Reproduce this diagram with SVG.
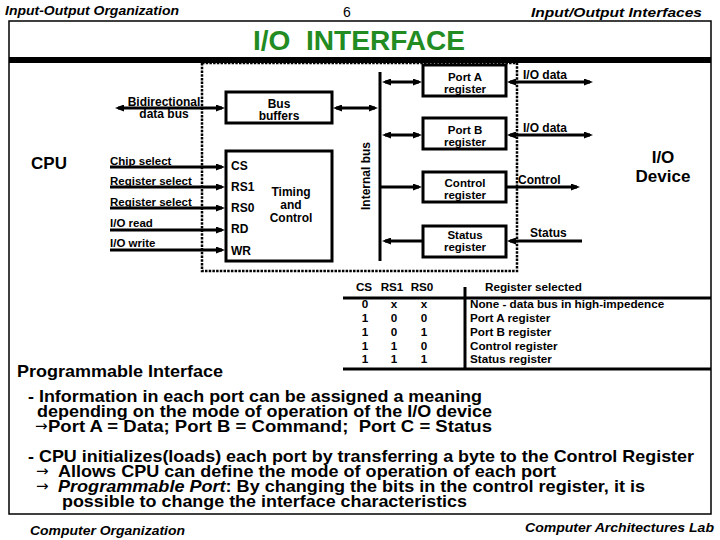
<svg xmlns="http://www.w3.org/2000/svg" width="720" height="540" viewBox="0 0 720 540">
<defs>
<marker id="ah" viewBox="0 0 9 7" refX="6" refY="3.5" markerWidth="9" markerHeight="7" markerUnits="userSpaceOnUse" orient="auto-start-reverse"><path d="M0,0 L9,3.5 L0,7 z" fill="#000"/></marker>
</defs>
<style>
text{font-family:"Liberation Sans",Arial,sans-serif;fill:#000}
.box{fill:#fff;stroke:#000;stroke-width:3}
.w{stroke:#000;stroke-width:3;fill:none}
.dot{stroke:#000;stroke-width:2.5;fill:none;stroke-dasharray:2.5 1.2}
.sig{font-size:11.5px;font-weight:bold}
.pin{font-size:12px;font-weight:bold}
.lbl{font-size:12px;font-weight:bold}
.rg{font-size:11.5px;font-weight:bold;text-anchor:middle}
.ctr{text-anchor:middle}
.tb{font-size:11.7px;font-weight:bold}
.body{font-size:17px;font-weight:bold}
.arr{font-family:"DejaVu Sans",sans-serif;font-size:15px;font-weight:normal}
.hdr{font-size:13.5px;font-weight:bold;font-style:italic}
.big{font-size:17px;font-weight:bold}
</style>

<g id="page-header">
<text class="hdr" x="5" y="15" textLength="174" lengthAdjust="spacingAndGlyphs">Input-Output Organization</text>
<text x="347" y="17" font-size="14" text-anchor="middle">6</text>
<text class="hdr" x="531" y="17" textLength="171" lengthAdjust="spacingAndGlyphs">Input/Output Interfaces</text>
</g>

<g id="frame">
<rect x="9" y="21" width="702" height="493" fill="none" stroke="#000" stroke-width="1.5"/>
<line x1="9" y1="60" x2="711" y2="60" stroke="#000" stroke-width="6"/>
<text x="253" y="50" font-size="27" font-weight="bold" style="fill:#228B22" textLength="212" lengthAdjust="spacingAndGlyphs">I/O&#160; INTERFACE</text>
</g>

<g id="interface-boundary">
<rect class="dot" x="202" y="63" width="315" height="208"/>
</g>

<g id="cpu"><text class="big ctr" x="49" y="169">CPU</text></g>

<g id="bus-buffers">
<rect class="box" x="226" y="92" width="106" height="31"/>
<text class="lbl ctr" x="279" y="107.5">Bus</text>
<text class="lbl ctr" x="279" y="119.5">buffers</text>
</g>

<g id="timing-control">
<rect class="box" x="226" y="151" width="106" height="110"/>
<text class="pin" x="231" y="170">CS</text>
<text class="pin" x="231" y="191">RS1</text>
<text class="pin" x="231" y="212">RS0</text>
<text class="pin" x="231" y="233">RD</text>
<text class="pin" x="231" y="255">WR</text>
<text class="lbl ctr" x="291" y="196" font-size="12.5">Timing</text>
<text class="lbl ctr" x="291" y="209" font-size="12.5">and</text>
<text class="lbl ctr" x="291" y="222" font-size="12.5">Control</text>
</g>

<g id="internal-bus">
<line class="w" x1="380" y1="72" x2="380" y2="261"/>
<text class="lbl ctr" transform="translate(370,176) rotate(-90)">Internal bus</text>
</g>

<g id="port-a">
<rect class="box" x="423" y="65" width="83" height="31"/>
<text class="rg" x="465" y="80.5">Port A</text>
<text class="rg" x="465" y="92.5">register</text>
</g>
<g id="port-b">
<rect class="box" x="423" y="118" width="83" height="31"/>
<text class="rg" x="465" y="133.5">Port B</text>
<text class="rg" x="465" y="145.5">register</text>
</g>
<g id="control-register">
<rect class="box" x="423" y="172" width="83" height="30"/>
<text class="rg" x="465" y="186.5">Control</text>
<text class="rg" x="465" y="198.5">register</text>
</g>
<g id="status-register">
<rect class="box" x="423" y="226" width="83" height="31"/>
<text class="rg" x="465" y="239">Status</text>
<text class="rg" x="465" y="251">register</text>
</g>

<g id="io-device">
<text class="big ctr" x="663" y="163">I/O</text>
<text class="big ctr" x="663" y="182">Device</text>
</g>

<g id="connectors">
<line class="w" x1="118" y1="108" x2="222" y2="108" marker-start="url(#ah)" marker-end="url(#ah)"/>
<line class="w" x1="336" y1="108" x2="375" y2="108" marker-start="url(#ah)" marker-end="url(#ah)"/>
<line class="w" x1="110" y1="167" x2="222" y2="167" marker-end="url(#ah)"/>
<line class="w" x1="110" y1="187" x2="222" y2="187" marker-end="url(#ah)"/>
<line class="w" x1="110" y1="208" x2="222" y2="208" marker-end="url(#ah)"/>
<line class="w" x1="110" y1="230" x2="222" y2="230" marker-end="url(#ah)"/>
<line class="w" x1="110" y1="250" x2="222" y2="250" marker-end="url(#ah)"/>
<line class="w" x1="385" y1="82" x2="419" y2="82" marker-start="url(#ah)" marker-end="url(#ah)"/>
<line class="w" x1="385" y1="135" x2="419" y2="135" marker-start="url(#ah)" marker-end="url(#ah)"/>
<line class="w" x1="381" y1="187" x2="419" y2="187" marker-end="url(#ah)"/>
<line class="w" x1="422" y1="241" x2="385" y2="241" marker-end="url(#ah)"/>
<line class="w" x1="510" y1="82" x2="590" y2="82" marker-start="url(#ah)" marker-end="url(#ah)"/>
<line class="w" x1="510" y1="135" x2="590" y2="135" marker-start="url(#ah)" marker-end="url(#ah)"/>
<line class="w" x1="506" y1="187" x2="577" y2="187" marker-end="url(#ah)"/>
<line class="w" x1="582" y1="241" x2="510" y2="241" marker-end="url(#ah)"/>
<text class="lbl" x="164" y="106" text-anchor="middle">Bidirectional</text>
<text class="lbl" x="164" y="118" text-anchor="middle">data bus</text>
<text class="sig" x="110" y="165">Chip select</text>
<text class="sig" x="110" y="185">Register select</text>
<text class="sig" x="110" y="206">Register select</text>
<text class="sig" x="110" y="227">I/O read</text>
<text class="sig" x="110" y="247">I/O write</text>
<text class="lbl" x="523" y="79">I/O data</text>
<text class="lbl" x="523" y="132">I/O data</text>
<text class="lbl" x="518" y="184">Control</text>
<text class="lbl" x="530" y="237">Status</text>
</g>

<g id="select-table">
<line class="w" x1="343" y1="298" x2="711" y2="298"/>
<line class="w" x1="343" y1="369" x2="711" y2="369"/>
<line class="w" x1="465" y1="287" x2="465" y2="370"/>
<text class="tb ctr" x="364" y="291">CS</text>
<text class="tb ctr" x="392" y="291">RS1</text>
<text class="tb ctr" x="422" y="291">RS0</text>
<text class="tb" x="485" y="291">Register selected</text>
<text class="tb ctr" x="365" y="308">0</text><text class="tb ctr" x="394" y="308">x</text><text class="tb ctr" x="424" y="308">x</text>
<text class="tb ctr" x="365" y="322">1</text><text class="tb ctr" x="394" y="322">0</text><text class="tb ctr" x="424" y="322">0</text>
<text class="tb ctr" x="365" y="336">1</text><text class="tb ctr" x="394" y="336">0</text><text class="tb ctr" x="424" y="336">1</text>
<text class="tb ctr" x="365" y="349.5">1</text><text class="tb ctr" x="394" y="349.5">1</text><text class="tb ctr" x="424" y="349.5">0</text>
<text class="tb ctr" x="365" y="363">1</text><text class="tb ctr" x="394" y="363">1</text><text class="tb ctr" x="424" y="363">1</text>
<text class="tb" x="470" y="308">None - data bus in high-impedence</text>
<text class="tb" x="470" y="322">Port A register</text>
<text class="tb" x="470" y="336">Port B register</text>
<text class="tb" x="470" y="349.5">Control register</text>
<text class="tb" x="470" y="363">Status register</text>
</g>

<g id="notes">
<text class="body" x="17" y="377" textLength="206" lengthAdjust="spacingAndGlyphs">Programmable Interface</text>
<text class="body" x="28" y="402" textLength="454" lengthAdjust="spacingAndGlyphs">- Information in each port can be assigned a meaning</text>
<text class="body" x="37" y="417" textLength="455" lengthAdjust="spacingAndGlyphs">depending on the mode of operation of the I/O device</text>
<text class="arr" x="35" y="431">→</text>
<text class="body" x="48" y="432" textLength="444" lengthAdjust="spacingAndGlyphs">Port A = Data; Port B = Command;&#160; Port C = Status</text>
<text class="body" x="28" y="462" textLength="666" lengthAdjust="spacingAndGlyphs">- CPU initializes(loads) each port by transferring a byte to the Control Register</text>
<text class="arr" x="36" y="476">→</text>
<text class="body" x="58" y="477" textLength="498" lengthAdjust="spacingAndGlyphs">Allows CPU can define the mode of operation of each port</text>
<text class="arr" x="36" y="491">→</text>
<text class="body" x="58" y="492" textLength="587" lengthAdjust="spacingAndGlyphs"><tspan font-style="italic">Programmable Port</tspan>: By changing the bits in the control register, it is</text>
<text class="body" x="62" y="507" textLength="405" lengthAdjust="spacingAndGlyphs">possible to change the interface characteristics</text>
</g>

<g id="page-footer">
<text class="hdr" x="30" y="535" textLength="155" lengthAdjust="spacingAndGlyphs">Computer Organization</text>
<text class="hdr" x="525" y="532" textLength="189" lengthAdjust="spacingAndGlyphs">Computer Architectures Lab</text>
</g>
</svg>
